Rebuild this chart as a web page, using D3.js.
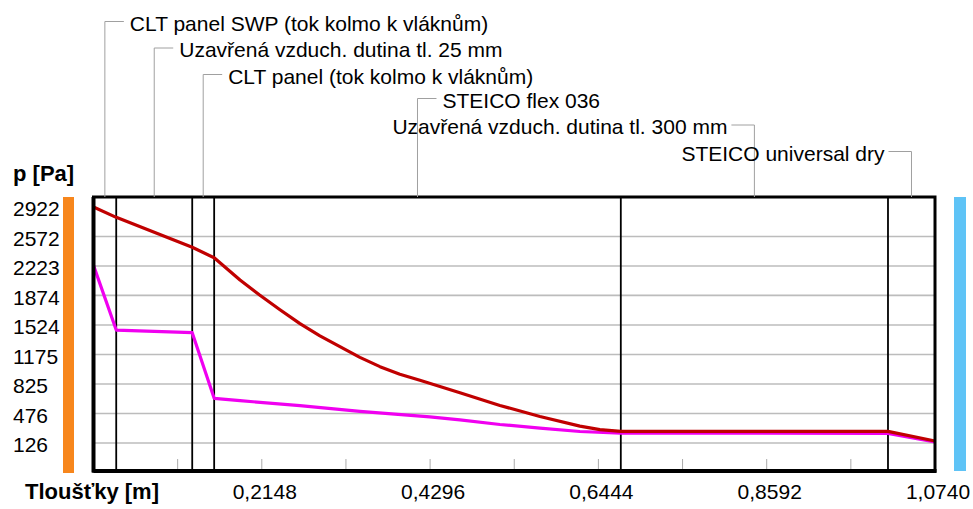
<!DOCTYPE html>
<html>
<head>
<meta charset="utf-8">
<script src="https://cdn.jsdelivr.net/npm/d3@7"></script>
<style>
  body { margin: 0; background: #fff; }
  text { font-family: "Liberation Sans", Arial, sans-serif; fill: #000; }
</style>
</head>
<body>
<svg id="chart" width="973" height="509"></svg>
<script>
// Vrstvy konstrukce (hranice v m, jak jsou vyneseny na ose)
const layerNames = [
    "CLT panel SWP (tok kolmo k vláknům)",
    "Uzavřená vzduch. dutina tl. 25 mm",
    "CLT panel (tok kolmo k vláknům)",
    "STEICO flex 036",
    "Uzavřená vzduch. dutina tl. 300 mm",
    "STEICO universal dry"
];
const layerBounds = [0, 0.029, 0.126, 0.154, 0.673, 1.014, 1.074];
const labelSide = ["right", "right", "right", "right", "left", "left"];

// Tlak nasycených vodních par (červená)
const satX = [0, 0.029, 0.126, 0.154, 0.187, 0.212, 0.238, 0.2635, 0.289, 0.3145, 0.340, 0.3656, 0.391, 0.4166, 0.4677, 0.5187, 0.5698, 0.6208, 0.6463, 0.673, 1.014, 1.074];
const satP = [2922, 2799, 2444, 2320, 2057, 1879, 1705, 1540, 1395, 1267, 1140, 1030, 940, 868, 722, 570, 440, 325, 284, 263, 264, 150];

// Částečný tlak vodní páry (fialová)
const parX = [0, 0.029, 0.126, 0.154, 0.187, 0.2635, 0.340, 0.4293, 0.4677, 0.5187, 0.5698, 0.6208, 0.673, 1.014, 1.074];
const parP = [2230, 1464, 1433, 655, 627, 568, 500, 436, 400, 345, 302, 262, 242, 240, 138];

// Popisky os
const yTicks = [126, 476, 825, 1175, 1524, 1874, 2223, 2572, 2922];
const xMinorTicks = [0.1074, 0.2148, 0.3222, 0.4296, 0.5370, 0.6444, 0.7518, 0.8592, 0.9666];
const xLabels = [0.2148, 0.4296, 0.6444, 0.8592, 1.0740];

const svg = d3.select("#chart");
const m = {left: 93.5, right: 935, top: 197, bottom: 471};

const x = d3.scaleLinear().domain([0, 1.074]).range([m.left, m.right]);
const y = d3.scaleLinear().domain([-206, 3040]).range([m.bottom, m.top]);

// Barevné pruhy (interiér / exteriér)
svg.append("rect").attr("x", 63).attr("y", m.top).attr("width", 11).attr("height", m.bottom - m.top + 2).attr("fill", "#f7861c");
svg.append("rect").attr("x", 954).attr("y", m.top).attr("width", 12).attr("height", m.bottom - m.top).attr("fill", "#5ec3f6");

// Mřížka
svg.append("g").selectAll("line")
    .data(yTicks.filter(v => v !== 2922))
    .join("line")
    .attr("x1", m.left).attr("x2", m.right)
    .attr("y1", d => y(d)).attr("y2", d => y(d))
    .attr("stroke", "#bcbcbc").attr("stroke-width", 1.6);

// Malé značky na ose x
svg.append("g").selectAll("line")
    .data(xMinorTicks)
    .join("line")
    .attr("x1", d => x(d)).attr("x2", d => x(d))
    .attr("y1", m.bottom - 12).attr("y2", m.bottom)
    .attr("stroke", "#aaa").attr("stroke-width", 1);

// Hranice vrstev
svg.append("g").selectAll("line")
    .data(layerBounds.slice(1, -1))
    .join("line")
    .attr("x1", d => x(d)).attr("x2", d => x(d))
    .attr("y1", m.top).attr("y2", m.bottom)
    .attr("stroke", "#000").attr("stroke-width", 1.8);

// Průběhy tlaků
const line = d3.line().x(d => x(d[0])).y(d => y(d[1]));
svg.append("path")
    .datum(d3.zip(parX, parP))
    .attr("d", line)
    .attr("fill", "none").attr("stroke", "#f000f0").attr("stroke-width", 3.2)
    .attr("stroke-linejoin", "round");
svg.append("path")
    .datum(d3.zip(satX, satP))
    .attr("d", line)
    .attr("fill", "none").attr("stroke", "#c00000").attr("stroke-width", 3.2)
    .attr("stroke-linejoin", "round");

// Rámeček grafu
svg.append("rect")
    .attr("x", m.left).attr("y", m.top).attr("width", m.right - m.left).attr("height", m.bottom - m.top)
    .attr("fill", "none").attr("stroke", "#000").attr("stroke-width", 3);
svg.append("line").attr("x1", m.left).attr("x2", m.left).attr("y1", m.top).attr("y2", m.bottom + 1.5)
    .attr("stroke", "#000").attr("stroke-width", 4);
svg.append("line").attr("x1", m.left).attr("x2", m.right + 1.5).attr("y1", m.bottom).attr("y2", m.bottom)
    .attr("stroke", "#000").attr("stroke-width", 4);

// Popisky vrstev s odkazovými čarami
const baselines = [30.5, 57, 83.5, 107.5, 134, 160.5];
layerNames.forEach((name, i) => {
    const mid = x((layerBounds[i] + layerBounds[i + 1]) / 2);
    const ly = baselines[i] - 9;
    const g = svg.append("g");
    g.append("line").attr("x1", mid).attr("x2", mid).attr("y1", ly).attr("y2", m.top)
        .attr("stroke", "#a0a0a0").attr("stroke-width", 1);
    if (labelSide[i] === "right") {
        g.append("line").attr("x1", mid).attr("x2", mid + 19).attr("y1", ly).attr("y2", ly)
            .attr("stroke", "#a0a0a0").attr("stroke-width", 1);
        g.append("text").attr("x", mid + 25).attr("y", baselines[i])
            .attr("font-size", 21).text(name);
    } else {
        g.append("line").attr("x1", mid).attr("x2", mid - 23).attr("y1", ly).attr("y2", ly)
            .attr("stroke", "#a0a0a0").attr("stroke-width", 1);
        g.append("text").attr("x", mid - 27).attr("y", baselines[i])
            .attr("text-anchor", "end").attr("font-size", 21).text(name);
    }
});

// Osa y
svg.append("g").selectAll("text")
    .data(yTicks)
    .join("text")
    .attr("x", 13)
    .attr("y", d => y(d) + 9.5)
    .attr("font-size", 21)
    .text(d => d);

svg.append("text").attr("x", 13).attr("y", 181)
    .attr("font-size", 22).attr("font-weight", "bold").text("p [Pa]");

// Osa x
const fmt = d => d3.format(".4f")(d).replace(".", ",");
svg.append("g").selectAll("text")
    .data(xLabels)
    .join("text")
    .attr("x", d => x(d) + 3)
    .attr("y", 499)
    .attr("text-anchor", "middle")
    .attr("font-size", 21)
    .text(fmt);

svg.append("text").attr("x", 25).attr("y", 499)
    .attr("font-size", 22).attr("font-weight", "bold").text("Tloušťky [m]");
</script>
</body>
</html>
